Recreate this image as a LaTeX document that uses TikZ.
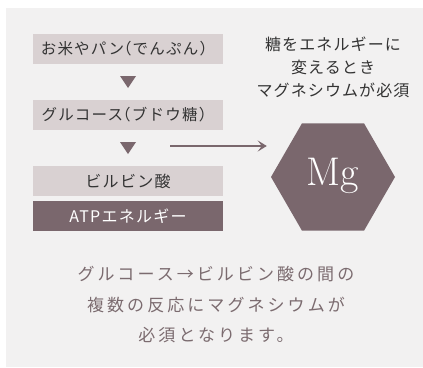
\documentclass[tikz,border=0pt]{standalone}
\usepackage{fontspec}
\newfontfamily\jpsp[LetterSpace=8]{Noto Sans CJK JP}
\newfontfamily\jpnote[LetterSpace=7]{Noto Sans CJK JP}
\newfontfamily\jpwide[LetterSpace=18]{Noto Sans CJK JP}
\usetikzlibrary{shapes.geometric,arrows.meta,calc}
\definecolor{bgc}{HTML}{F2F1F1}
\definecolor{lightbox}{HTML}{D9D1D2}
\definecolor{darkc}{HTML}{7A676D}
\definecolor{txt}{HTML}{333333}
\definecolor{softtxt}{HTML}{7B6B6F}
\newcommand\lp{\hspace{-8pt}（}
\newcommand\rp{）\hspace{-8pt}}
\begin{document}
\begin{tikzpicture}[x=1pt,y=-1pt,
  stepbox/.style={rectangle,minimum width=190pt,minimum height=30pt,inner sep=0pt,fill=lightbox,text=txt,font=\jpsp\fontsize{16}{17}\selectfont},
  darkbox/.style={stepbox,fill=darkc,text=white},
  note/.style={align=center,text=txt,font=\jpnote\fontsize{16}{23}\selectfont},
  foot/.style={align=center,text=softtxt,font=\jpwide\fontsize{17}{30.5}\selectfont},
  tri/.style={fill=darkc}]
\useasboundingbox (0,0) rectangle (423,367);
\fill[white] (0,0) rectangle (423,367);
\fill[bgc] (6,8) rectangle (423,367);

\node[stepbox] (b1) at (128,49) {\fontsize{15.5}{17}\selectfont お米やパン\lp でんぷん\rp};
\node[stepbox] (b2) at (128,115) {\fontsize{15.5}{17}\selectfont グルコース\lp ブドウ糖\rp};
\node[stepbox] (b3) at (128,181) {ビルビン酸};
\node[darkbox] (b4) at (128,216) {ATPエネルギー};

\coordinate (t1) at (128,82);
\coordinate (t2) at (128,148);
\fill[tri] ($(t1)+(-8,-6)$) -- ++(16,0) -- ++(-8,12) -- cycle;
\fill[tri] ($(t2)+(-8,-6)$) -- ++(16,0) -- ++(-8,12) -- cycle;

\node[regular polygon,regular polygon sides=6,minimum size=124pt,inner sep=0pt,fill=darkc] (mg) at (333,177) {};
\node[text=white,font=\fontsize{40}{40}\selectfont] (mgt) at (333,176) {Mg};

\coordinate (a0) at (170,146);
\draw[darkc,line width=1.3pt,shorten >=4pt,-{Stealth[length=9pt,width=11pt,inset=4pt]}] (a0) -- (mg.west |- a0);

\node[note] (n) at (333,67) {糖をエネルギーに\\変えるとき\\マグネシウムが必須};

\node[foot] (f) at (216,305) {グルコース→ビルビン酸の間の\\複数の反応にマグネシウムが\\必須となります。};
\end{tikzpicture}
\end{document}
